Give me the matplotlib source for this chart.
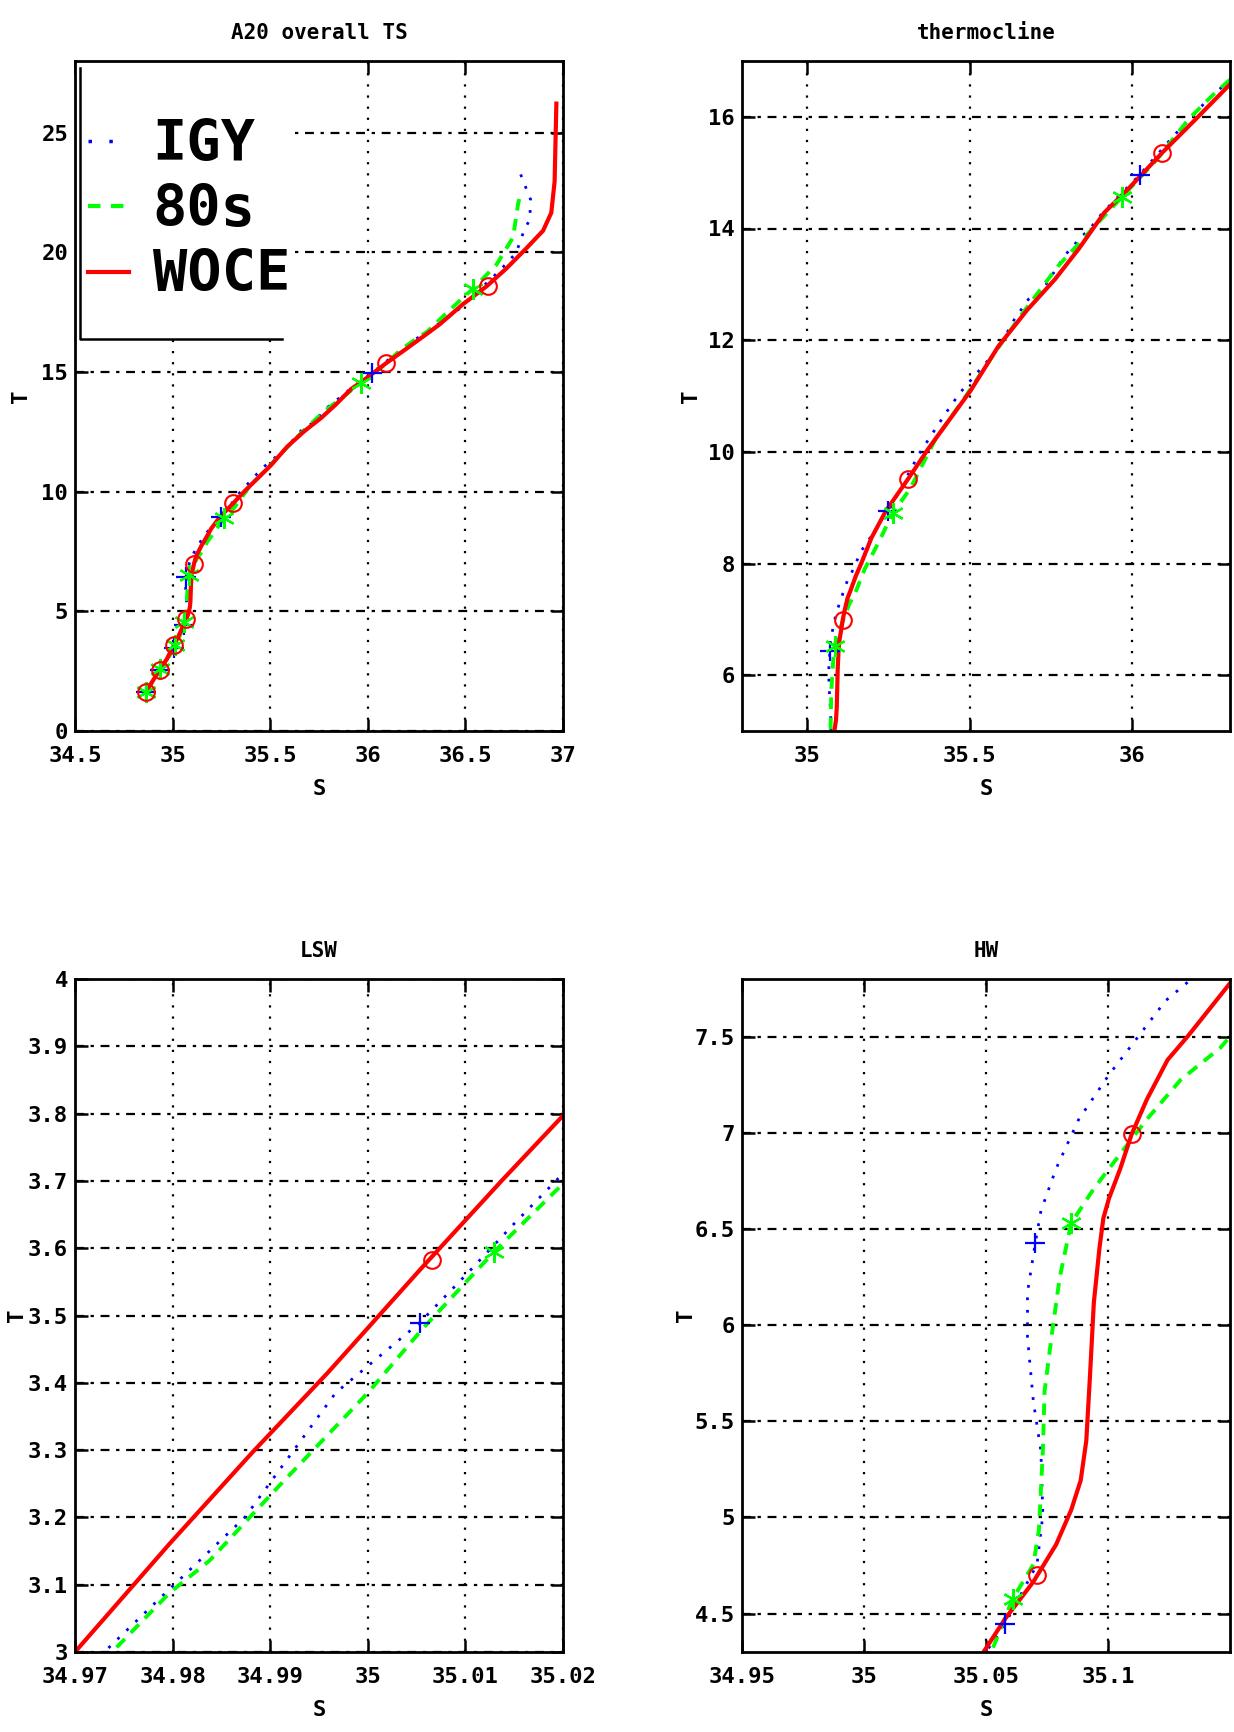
import matplotlib
matplotlib.use("Agg")
import matplotlib.pyplot as plt
from matplotlib.lines import Line2D
from matplotlib.patches import Rectangle
import numpy as np

plt.rcParams['font.family'] = ['DejaVu Sans Mono', 'DejaVu Sans']
plt.rcParams['font.weight'] = 'bold'

# ---------------- data (theta-S profiles) ----------------
igy_S = [34.866, 34.935, 34.973, 34.9785, 34.9874, 34.9967, 35.0053, 35.0101, 35.0149, 35.0198,
         35.036, 35.050, 35.0578, 35.0709, 35.0733, 35.0725, 35.0694, 35.067, 35.067, 35.0702,
         35.0725, 35.0787, 35.088, 35.1004, 35.1097, 35.1236, 35.1345, 35.166, 35.25, 35.28,
         35.345, 35.426, 35.469, 35.534, 35.588, 35.637, 35.68, 35.718, 35.794, 35.843,
         35.87, 35.908, 36.022, 36.13, 36.157, 36.227, 36.303, 36.45, 36.58, 36.676,
         36.76, 36.80, 36.83, 36.834, 36.79, 36.77]
igy_T = [1.64, 2.57, 3.0, 3.077, 3.20, 3.385, 3.489, 3.561, 3.635, 3.708,
         4.0, 4.30, 4.446, 4.755, 5.012, 5.346, 5.604, 5.938, 6.17, 6.427,
         6.594, 6.813, 7.07, 7.302, 7.456, 7.687, 7.803, 8.22, 8.94, 9.26,
         9.97, 10.69, 11.05, 11.49, 11.85, 12.37, 12.73, 12.85, 13.53, 13.85,
         14.0, 14.28, 14.96, 15.68, 15.84, 16.28, 16.68, 17.5, 18.5, 19.24,
         19.98, 20.91, 21.38, 22.21, 23.11, 23.55]

s80_S = [34.866, 34.937, 34.9738, 34.9797, 34.9838, 34.9906, 35.0, 35.0056, 35.0129, 35.0198,
         35.038, 35.0523, 35.0609, 35.0694, 35.0717, 35.0733, 35.074, 35.0771, 35.0802, 35.0849,
         35.0942, 35.105, 35.1159, 35.1298, 35.1461, 35.177, 35.22, 35.263, 35.317, 35.393,
         35.48, 35.567, 35.653, 35.772, 35.848, 35.967, 36.076, 36.173, 36.249, 36.303,
         36.42, 36.54, 36.66, 36.744, 36.77, 36.778]
s80_T = [1.64, 2.60, 3.0, 3.088, 3.136, 3.242, 3.385, 3.48, 3.594, 3.693,
         4.0, 4.304, 4.575, 4.755, 4.935, 5.346, 5.655, 5.964, 6.247, 6.53,
         6.71, 6.89, 7.07, 7.276, 7.443, 7.9, 8.38, 8.9, 9.34, 10.21,
         10.93, 11.69, 12.41, 13.33, 13.81, 14.56, 15.24, 15.96, 16.4, 16.68,
         17.6, 18.49, 19.5, 20.63, 22.03, 22.3]

woce_S = [34.863, 34.935, 34.97, 34.9797, 34.9882, 34.9959, 35.0056, 35.0137, 35.02, 35.035,
          35.0492, 35.0578, 35.0694, 35.0787, 35.0849, 35.0888, 35.0911, 35.0926, 35.0942, 35.0965,
          35.0981, 35.1004, 35.105, 35.1097, 35.1159, 35.1244, 35.133, 35.15, 35.165, 35.198,
          35.242, 35.31, 35.372, 35.502, 35.588, 35.675, 35.762, 35.837, 35.913, 35.989,
          36.092, 36.195, 36.303, 36.369, 36.488, 36.608, 36.71, 36.812, 36.898, 36.94,
          36.957, 36.966]
woce_T = [1.64, 2.57, 3.0, 3.161, 3.297, 3.415, 3.572, 3.70, 3.797, 4.05,
          4.304, 4.472, 4.665, 4.858, 5.038, 5.192, 5.398, 5.732, 6.118, 6.401,
          6.556, 6.659, 6.813, 6.993, 7.173, 7.379, 7.507, 7.778, 7.98, 8.46,
          8.94, 9.51, 10.05, 11.09, 11.89, 12.53, 13.09, 13.65, 14.28, 14.72,
          15.36, 15.96, 16.6, 17.0, 17.84, 18.58, 19.33, 20.17, 20.91, 21.66,
          22.96, 26.22]

# marked levels
igy_mk_S = [34.866, 34.935, 35.0053, 35.0578, 35.0702, 35.25, 36.022]
igy_mk_T = [1.64, 2.57, 3.489, 4.446, 6.427, 8.94, 14.96]
s80_mk_S = [34.866, 34.937, 35.0129, 35.0609, 35.0849, 35.263, 35.967, 36.54]
s80_mk_T = [1.64, 2.60, 3.594, 4.575, 6.53, 8.90, 14.56, 18.49]
woce_mk_S = [34.863, 34.935, 35.0066, 35.071, 35.1097, 35.31, 36.092, 36.615]
woce_mk_T = [1.64, 2.57, 3.583, 4.70, 6.993, 9.51, 15.36, 18.60]

series_names = ['IGY', '80s', 'WOCE']

# panel definitions
titles = ['A20 overall TS', 'thermocline', 'LSW', 'HW']
xlims = [(34.5, 37.0), (34.8, 36.3), (34.97, 35.02), (34.95, 35.15)]
ylims = [(0, 28), (5, 17), (3, 4), (4.3, 7.8)]
xticks = [[34.5, 35, 35.5, 36, 36.5, 37], [35, 35.5, 36],
          [34.97, 34.98, 34.99, 35.0, 35.01, 35.02], [34.95, 35.0, 35.05, 35.1]]
xticklabels = [['34.5', '35', '35.5', '36', '36.5', '37'], ['35', '35.5', '36'],
               ['34.97', '34.98', '34.99', '35', '35.01', '35.02'],
               ['34.95', '35', '35.05', '35.1']]
yticks = [[0, 5, 10, 15, 20, 25], [6, 8, 10, 12, 14, 16],
          [3.0, 3.1, 3.2, 3.3, 3.4, 3.5, 3.6, 3.7, 3.8, 3.9, 4.0],
          [4.5, 5.0, 5.5, 6.0, 6.5, 7.0, 7.5]]
yticklabels = [['0', '5', '10', '15', '20', '25'], ['6', '8', '10', '12', '14', '16'],
               ['3', '3.1', '3.2', '3.3', '3.4', '3.5', '3.6', '3.7', '3.8', '3.9', '4'],
               ['4.5', '5', '5.5', '6', '6.5', '7', '7.5']]

# ---------------- figure ----------------
W, H = 1234, 1732
fig = plt.figure(figsize=(W / 100, H / 100), dpi=100)

boxes = [(75, 61, 563, 731), (742, 61, 1230, 731),
         (75, 979, 563, 1652), (742, 979, 1230, 1652)]
ylab_x = [-0.090, -0.084, -0.099, -0.094]

BLUE = (0, 0, 1)
GREEN = (0, 1, 0)
RED = (1, 0, 0)
igy_ls = (0, (1, 3.5))
s80_ls = (0, (3, 2.2))
ast = (6, 2, 0)

for i, (x0, y0, x1, y1) in enumerate(boxes):
    ax = fig.add_axes([x0 / W, 1 - y1 / H, (x1 - x0) / W, (y1 - y0) / H])
    ax.plot(igy_S, igy_T, color=BLUE, lw=2.0, ls=igy_ls)
    ax.plot(s80_S, s80_T, color=GREEN, lw=2.8, ls=s80_ls)
    ax.plot(woce_S, woce_T, color=RED, lw=3.0, ls='-')
    ax.plot(igy_mk_S, igy_mk_T, ls='none', marker='+', ms=15, mew=1.6, color=BLUE)
    ax.plot(s80_mk_S, s80_mk_T, ls='none', marker=ast, ms=15, mew=1.6, color=GREEN)
    ax.plot(woce_mk_S, woce_mk_T, ls='none', marker='o', ms=12, mew=1.5,
            mfc='none', mec=RED)

    ax.set_xlim(*xlims[i])
    ax.set_ylim(*ylims[i])
    ax.set_xticks(xticks[i])
    ax.set_xticklabels(xticklabels[i])
    ax.set_yticks(yticks[i])
    ax.set_yticklabels(yticklabels[i])
    ax.tick_params(direction='in', length=9, width=1.8, top=True, right=True,
                   labelsize=16)
    ax.tick_params(axis='x', pad=11)
    ax.tick_params(axis='y', pad=5)
    for lab in ax.get_xticklabels() + ax.get_yticklabels():
        lab.set_fontweight('bold')
    for sp in ax.spines.values():
        sp.set_linewidth(2.0)
    ax.grid(True, axis='x', color='black', lw=1.6, ls=(0, (1, 4)))
    ax.grid(True, axis='y', color='black', lw=1.6, ls=(0, (4, 3, 1.5, 3)))
    ax.set_axisbelow(True)

    ax.set_title(titles[i], fontsize=15, fontweight='bold', pad=16)
    ax.set_xlabel('S', fontsize=16, fontweight='bold')
    ax.set_ylabel('T', fontsize=16, fontweight='bold')
    hgt = (y1 - y0)
    ax.xaxis.set_label_coords(0.5, -48 / hgt)
    ax.yaxis.set_label_coords(ylab_x[i], 0.5)

    if i == 0:
        # legend background hides the grid beneath it
        ax.add_patch(Rectangle((0.0, 0.585), 0.447, 0.415, transform=ax.transAxes,
                               facecolor='white', edgecolor='none', zorder=1))
        handles = [Line2D([], [], color=BLUE, lw=2.5, ls=(0, (1, 5))),
                   Line2D([], [], color=GREEN, lw=3.0, ls=(0, (3, 2.5))),
                   Line2D([], [], color=RED, lw=3.0, ls='-')]
        leg = ax.legend(handles, series_names, loc='upper left',
                        bbox_to_anchor=(0.026, 0.915), frameon=False,
                        prop={'family': 'DejaVu Sans Mono', 'weight': 'bold', 'size': 41},
                        handlelength=0.72, handletextpad=0.42, labelspacing=0.18,
                        borderaxespad=0.0, borderpad=0.0)
        # legend box: left and bottom edges only
        ax.plot([0.01, 0.01, 0.424], [0.99, 0.585, 0.585], color='black', lw=1.8,
                transform=ax.transAxes, clip_on=False)

fig.savefig('out.png', dpi=100)
